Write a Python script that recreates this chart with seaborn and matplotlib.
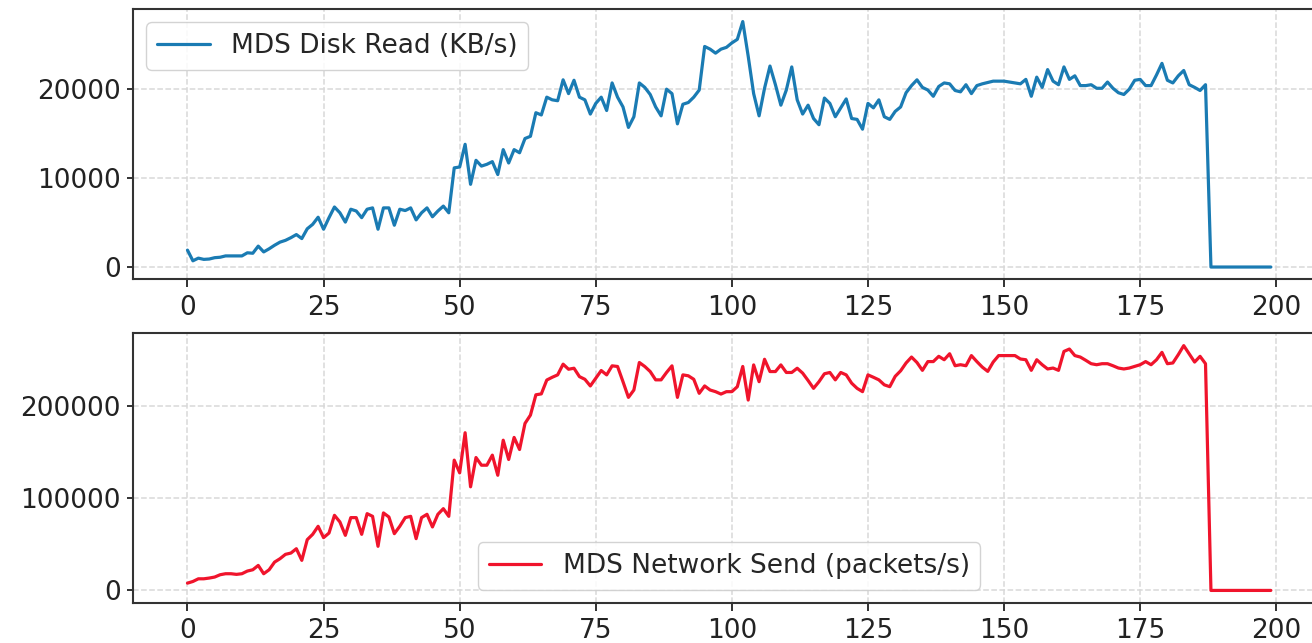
import matplotlib
matplotlib.use("Agg")
import matplotlib.pyplot as plt
import numpy as np
import pandas as pd
import seaborn as sns

# Sample index (seconds)
t = list(range(200))

# MDS disk read throughput, KB/s
disk_read = [
    1900, 700, 1000, 860, 900, 1050, 1100, 1250, 1250, 1250,
    1250, 1600, 1550, 2350, 1700, 2050, 2450, 2800, 3000, 3300,
    3650, 3200, 4300, 4800, 5600, 4250, 5550, 6750, 6100, 5050,
    6500, 6300, 5550, 6500, 6650, 4250, 6650, 6650, 4700, 6500,
    6350, 6650, 5300, 6100, 6650, 5650, 6300, 6850, 6100, 11150,
    11250, 13800, 9300, 12000, 11350, 11550, 11850, 10400, 13200, 11700,
    13200, 12850, 14450, 14700, 17350, 17100, 19100, 18800, 18700, 21050,
    19500, 21000, 19100, 18800, 17200, 18400, 19100, 17600, 20700, 19100,
    18000, 15700, 16900, 20700, 20200, 19400, 18000, 17000, 20000, 19500,
    16100, 18300, 18500, 19100, 19900, 24800, 24500, 24050, 24500, 24700,
    25200, 25600, 27600, 23700, 19500, 17000, 20100, 22600, 20500, 18200,
    19900, 22500, 18800, 17200, 18200, 16700, 16000, 19000, 18400, 16900,
    17900, 18900, 16700, 16600, 15500, 18400, 17900, 18800, 16900, 16600,
    17500, 18000, 19600, 20400, 21050, 20200, 19900, 19200, 20300, 20700,
    20600, 19850, 19700, 20500, 19500, 20400, 20600, 20750, 20900, 20900,
    20900, 20800, 20700, 20600, 21100, 19200, 21350, 20200, 22200, 20900,
    20500, 22500, 21100, 21500, 20400, 20400, 20500, 20100, 20100, 20800,
    20100, 19600, 19400, 20000, 21000, 21100, 20400, 20400, 21600, 22900,
    21000, 20700, 21500, 22100, 20500, 20200, 19850, 20500, 0, 0,
    0, 0, 0, 0, 0, 0, 0, 0, 0, 0,
]

# MDS network send rate, packets/s
network_send = [
    7900, 9700, 12600, 12600, 13400, 14500, 17000, 18100, 18100, 17400,
    18100, 21000, 22400, 27100, 18100, 22400, 30700, 34400, 39100, 40500,
    45200, 32600, 55000, 60800, 69500, 57200, 62200, 81400, 74200, 59700,
    78900, 78900, 60800, 83200, 80300, 47800, 84000, 79600, 61500, 69500,
    78900, 80300, 56100, 78900, 82500, 68800, 82500, 88600, 80300, 141200,
    127400, 170900, 112300, 144000, 135700, 135700, 146600, 124800, 162800, 141900,
    165800, 152700, 181000, 190000, 212000, 213000, 228000, 231000, 233600, 245200,
    239700, 240800, 231700, 228800, 221600, 230000, 238300, 233600, 243400, 242700,
    226200, 209200, 217200, 247000, 242700, 237200, 228200, 228200, 236200, 243400,
    209200, 233600, 232600, 228800, 213600, 221600, 217200, 215400, 212800, 215400,
    215400, 220800, 242700, 206300, 244400, 226200, 250500, 237200, 237200, 244400,
    236200, 236200, 240800, 235500, 227500, 219000, 226200, 234800, 236200, 228200,
    236200, 233600, 224600, 219000, 215400, 233600, 231000, 228200, 222800, 220800,
    232000, 238000, 246500, 252900, 247000, 238500, 248000, 248000, 253700, 250000,
    256500, 243500, 244600, 243500, 254500, 248000, 242000, 237400, 247500, 254500,
    254500, 254500, 254500, 250800, 250000, 238500, 250000, 244600, 240000, 241000,
    238500, 259000, 261600, 254500, 252900, 249400, 245700, 244600, 245700, 245700,
    243500, 241000, 240000, 241000, 242800, 244600, 248000, 244600, 250000, 258000,
    245700, 246500, 255500, 265300, 256500, 247500, 253700, 245700, 0, 0,
    0, 0, 0, 0, 0, 0, 0, 0, 0, 0,
]

x_ticks = [0, 25, 50, 75, 100, 125, 150, 175, 200]
disk_ticks = [0, 10000, 20000]
net_ticks = [0, 100000, 200000]

disk_label = "MDS Disk Read (KB/s)"
net_label = "MDS Network Send (packets/s)"

sns.set_theme(style="whitegrid")
plt.rcParams["font.family"] = ["DejaVu Sans"]
plt.rcParams.update({
    "axes.edgecolor": "#333333",
    "axes.linewidth": 1.5,
    "grid.color": "#d9d9d9",
    "grid.linestyle": "--",
    "grid.linewidth": 1.1,
    "xtick.bottom": True,
    "ytick.left": True,
    "xtick.major.size": 6,
    "ytick.major.size": 4,
    "xtick.major.width": 1.3,
    "ytick.major.width": 1.3,
    "xtick.color": "#222222",
    "ytick.color": "#222222",
    "xtick.labelcolor": "#222222",
    "ytick.labelcolor": "#222222",
    "legend.edgecolor": "#cccccc",
})

W, H = 1312, 643
fig = plt.figure(figsize=(W / 100, H / 100), dpi=100)

left = 133.3 / W
width = (1325 - 133.3) / W
ax_top = fig.add_axes([left, (H - 279.3) / H, width, 270 / H])
ax_bot = fig.add_axes([left, (H - 602.7) / H, width, 270 / H])

df_disk = pd.DataFrame({"t": t, "value": disk_read})
df_net = pd.DataFrame({"t": t, "value": network_send})

sns.lineplot(data=df_disk, x="t", y="value", ax=ax_top, color="#1a7bb3",
             linewidth=2.3, label=disk_label)
sns.lineplot(data=df_net, x="t", y="value", ax=ax_bot, color="#f0142c",
             linewidth=2.3, label=net_label)

for ax, yt in ((ax_top, disk_ticks), (ax_bot, net_ticks)):
    ax.set_xlabel("")
    ax.set_ylabel("")
    ax.set_xticks(x_ticks)
    ax.set_yticks(yt)
    ax.set_xlim(-9.95, 208.95)
    ax.tick_params(axis="both", labelsize=19, pad=5)
    ax.grid(True, linestyle="--")
    for s in ax.spines.values():
        s.set_visible(True)
        s.set_color("#333333")
        s.set_linewidth(1.5)

ax_top.set_ylim(-1380, 28980)
ax_bot.set_ylim(-13300, 279300)

ax_top.legend(loc="upper left", fontsize=19, frameon=True, fancybox=True,
              framealpha=0.85, borderaxespad=0.5)
ax_bot.legend(loc="lower center", fontsize=19, frameon=True, fancybox=True,
              framealpha=0.85, borderaxespad=0.5)

fig.savefig("out.png", dpi=100)
